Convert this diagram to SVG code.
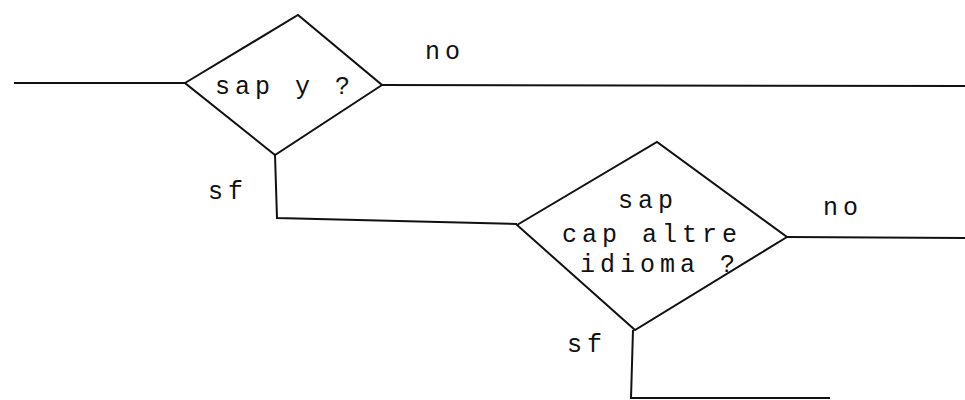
<svg xmlns="http://www.w3.org/2000/svg" width="965" height="400" viewBox="0 0 965 400">
<style>
.shape{fill:none;stroke:#111;stroke-width:2;stroke-linejoin:miter}
.conn{fill:none;stroke:#111;stroke-width:2}
text{font-family:"Liberation Mono","Courier New",monospace;font-size:25px;fill:#111;letter-spacing:5px}
</style>
<rect width="965" height="400" fill="#fff"/>
<g id="connectors">
<path class="conn" d="M14,83 L185,83"/>
<path class="conn" d="M382,85 L965,86"/>
<path class="conn" d="M275,155 L277,218 L517,224"/>
<path class="conn" d="M787,237 L965,238"/>
<path class="conn" d="M633,330 L631,398 L830,398"/>
<text x="425" y="59">no</text>
<text x="208" y="199">sf</text>
<text x="823" y="215">no</text>
<text x="567" y="352">sf</text>
</g>
<g id="node-sap-y">
<polygon class="shape" points="185,83 298,15 382,85 275,155"/>
<text x="215" y="94">sap y ?</text>
</g>
<g id="node-altre-idioma">
<polygon class="shape" points="517,225 657,142 787,237 635,330"/>
<text x="618" y="208">sap</text>
<text x="562" y="242">cap altre</text>
<text x="580" y="272">idioma ?</text>
</g>
</svg>
